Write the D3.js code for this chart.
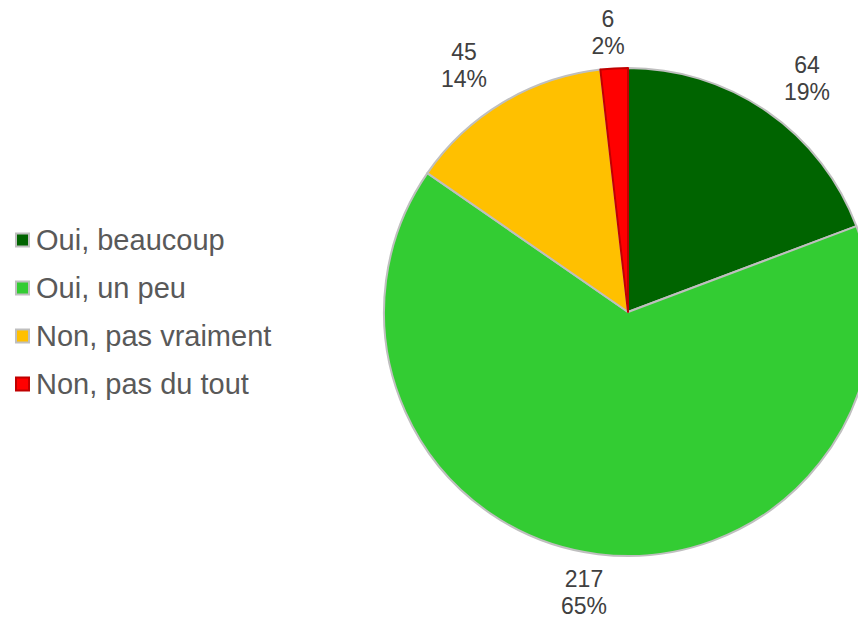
<!DOCTYPE html>
<html>
<head>
<meta charset="utf-8">
<script src="https://cdn.jsdelivr.net/npm/d3@7"></script>
<style>
  body { margin: 0; background: #fff; }
  svg { display: block; font-family: "Liberation Sans", Arial, sans-serif; }
</style>
</head>
<body>
<svg width="858" height="620"></svg>
<script>
const categories = ['Oui, beaucoup', 'Oui, un peu', 'Non, pas vraiment', 'Non, pas du tout']
const counts = [64, 217, 45, 6]
const colors = ['#006400', '#33cc33', '#ffc000', '#ff0000']
const strokes = ['#bfbfbf', '#bfbfbf', '#bfbfbf', '#c00000']
// label centres (first line)
const labelPos = [[807, 65], [584, 579], [464, 52], [608, 19]]

const data = categories.map((c, i) => ({ cat: c, value: counts[i] }))
const total = d3.sum(counts)

const svg = d3.select('svg')
const cx = 628, cy = 312, r = 244

const pie = d3.pie().sort(null).value(d => d.value)
const arc = d3.arc().innerRadius(0).outerRadius(r)

const g = svg.append('g').attr('transform', `translate(${cx},${cy})`)
g.selectAll('path')
  .data(pie(data))
  .enter()
  .append('path')
  .attr('d', arc)
  .attr('fill', (d, i) => colors[i])
  .attr('stroke', (d, i) => strokes[i])
  .attr('stroke-width', 2)
  .attr('stroke-linejoin', 'round')

// data labels
const labels = svg.selectAll('.lbl')
  .data(data)
  .enter()
  .append('text')
  .classed('lbl', true)
  .attr('text-anchor', 'middle')
  .attr('font-size', 23)
  .attr('fill', '#404040')
labels.append('tspan')
  .attr('x', (d, i) => labelPos[i][0])
  .attr('y', (d, i) => labelPos[i][1])
  .attr('dy', '0.35em')
  .text(d => d.value)
labels.append('tspan')
  .attr('x', (d, i) => labelPos[i][0])
  .attr('y', (d, i) => labelPos[i][1] + 27)
  .attr('dy', '0.35em')
  .text(d => Math.round(d.value / total * 100) + '%')

// legend
const yLeg = d3.scalePoint().domain(categories).range([240, 384])
const leg = svg.append('g')
const item = leg.selectAll('g')
  .data(categories)
  .enter()
  .append('g')
  .attr('transform', d => `translate(0,${yLeg(d)})`)
item.append('rect')
  .attr('x', 16).attr('y', -6.5)
  .attr('width', 13).attr('height', 13)
  .attr('fill', (d, i) => colors[i])
  .attr('stroke', (d, i) => strokes[i])
  .attr('stroke-width', 2)
item.append('text')
  .attr('x', 36)
  .attr('dy', '0.35em')
  .attr('font-size', 29)
  .attr('fill', '#595959')
  .text(d => d)
</script>
</body>
</html>
